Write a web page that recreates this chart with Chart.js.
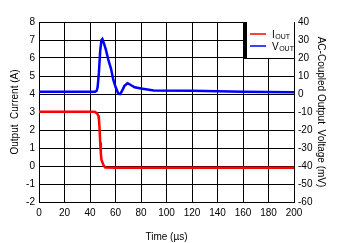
<!DOCTYPE html>
<html>
<head>
<meta charset="utf-8">
<script src="https://cdn.jsdelivr.net/npm/chart.js@4/dist/chart.umd.min.js"></script>
<style>
  html, body { margin: 0; padding: 0; background: #fff; }
  #wrap { width: 338px; height: 243px; }
</style>
</head>
<body>
<div id="wrap"><canvas id="chart"></canvas></div>
<script>
// load step transient
const IOUT_T = [0, 43, 44, 45.5, 46.5, 47, 47.5, 48, 48.5, 49, 50, 51, 52, 60, 200];
const IOUT_A = [3.02, 3.02, 3.0, 2.92, 2.8, 2.6, 2.1, 1.3, 0.7, 0.35, 0.15, 0.0, -0.08, -0.1, -0.1];

const VOUT_T = [0, 44, 45.3, 46, 47, 48, 49, 49.7, 51, 52.5, 54.4, 56.5, 58.3, 60, 62.2, 63.5, 65, 67, 69.5, 72, 75, 80, 90, 120, 160, 200];
const VOUT_MV = [1.3, 1.3, 1.8, 4, 12, 24, 30, 30.6, 28, 24.5, 19, 14, 7.8, 4, 0.2, 0, 1.5, 4.5, 6, 5, 3.7, 3, 2, 1.8, 1.3, 1.0];

const X_TICKS = [0, 20, 40, 60, 80, 100, 120, 140, 160, 180, 200];
const LEFT_TICKS = [-2, -1, 0, 1, 2, 3, 4, 5, 6, 7, 8];
const RIGHT_TICKS = [-60, -50, -40, -30, -20, -10, 0, 10, 20, 30, 40];

const FONT = { family: "'Liberation Sans', Arial, sans-serif", size: 10 };

const zip = (xs, ys) => xs.map((x, i) => ({ x, y: ys[i] }));

// legend box in the top right corner, with subscripted labels
const legendBox = {
  id: "legendBox",
  afterDatasetsDraw(chart) {
    const { ctx, chartArea } = chart;
    const w = 50, h = 36;
    const x0 = chartArea.right - w, y0 = chartArea.top;
    ctx.save();
    ctx.fillStyle = "#fff";
    ctx.fillRect(x0, y0, w, h);
    ctx.strokeStyle = "#000";
    ctx.lineWidth = 3;
    ctx.beginPath();
    ctx.moveTo(x0 + 1.5, y0);
    ctx.lineTo(x0 + 1.5, y0 + h);
    ctx.stroke();
    ctx.lineWidth = 1;
    ctx.beginPath();
    ctx.moveTo(x0, y0 + h + 0.5);
    ctx.lineTo(chartArea.right, y0 + h + 0.5);
    ctx.moveTo(chartArea.right + 0.5, y0);
    ctx.lineTo(chartArea.right + 0.5, y0 + h);
    ctx.stroke();

    const items = [
      { main: "I", sub: "OUT", color: chart.data.datasets[0].borderColor, y: y0 + 12 },
      { main: "V", sub: "OUT", color: chart.data.datasets[1].borderColor, y: y0 + 24 },
    ];
    items.forEach((it) => {
      ctx.strokeStyle = it.color;
      ctx.lineWidth = 1.5;
      ctx.beginPath();
      ctx.moveTo(x0 + 6, it.y);
      ctx.lineTo(x0 + 22, it.y);
      ctx.stroke();
      ctx.fillStyle = "#000";
      ctx.textBaseline = "alphabetic";
      ctx.font = "10px " + FONT.family;
      const tx = x0 + 28;
      ctx.fillText(it.main, tx, it.y + 3.5);
      const mw = ctx.measureText(it.main).width;
      ctx.font = "7px " + FONT.family;
      ctx.fillText(it.sub, tx + mw + 0.5, it.y + 4.5);
    });
    ctx.restore();
  },
};

new Chart(document.getElementById("chart"), {
  type: "line",
  data: {
    datasets: [
      {
        label: "IOUT",
        data: zip(IOUT_T, IOUT_A),
        borderColor: "#ff0000",
        borderWidth: 2.5,
        pointRadius: 0,
        tension: 0,
        yAxisID: "y",
      },
      {
        label: "VOUT",
        data: zip(VOUT_T, VOUT_MV),
        borderColor: "#0000ff",
        borderWidth: 2.5,
        pointRadius: 0,
        tension: 0,
        yAxisID: "y1",
      },
    ],
  },
  options: {
    responsive: true,
    maintainAspectRatio: false,
    animation: false,
    layout: { padding: { top: 22, left: 0, right: 0, bottom: 0 } },
    plugins: {
      legend: { display: false },
      tooltip: { enabled: false },
    },
    scales: {
      x: {
        type: "linear",
        min: 0,
        max: 200,
        afterBuildTicks: (s) => { s.ticks = X_TICKS.map((v) => ({ value: v })); },
        afterFit: (s) => { s.height = 41; },
        ticks: { color: "#000", font: FONT, padding: 5, maxRotation: 0 },
        grid: { color: "#000", lineWidth: 1, drawTicks: false },
        border: { color: "#000", width: 1 },
        title: { display: true, text: "Time (µs)", color: "#000", font: FONT, padding: { top: 10, bottom: 0 } },
      },
      y: {
        position: "left",
        min: -2,
        max: 8,
        afterBuildTicks: (s) => { s.ticks = LEFT_TICKS.map((v) => ({ value: v })); },
        afterFit: (s) => { s.width = 39; },
        ticks: { color: "#000", font: FONT, padding: 4 },
        grid: { color: "#000", lineWidth: 1, drawTicks: false },
        border: { color: "#000", width: 1 },
        title: { display: true, text: "Output  Current (A)", color: "#000", font: FONT, padding: { top: 9, bottom: 0 } },
      },
      y1: {
        position: "right",
        min: -60,
        max: 40,
        afterBuildTicks: (s) => { s.ticks = RIGHT_TICKS.map((v) => ({ value: v })); },
        afterFit: (s) => { s.width = 44; },
        ticks: { color: "#000", font: FONT, padding: 4 },
        grid: { display: false, drawTicks: false },
        border: { color: "#000", width: 1 },
        title: { display: true, text: "AC-Coupled Output  Voltage (mV)", color: "#000", font: FONT, padding: { top: 11, bottom: 0 } },
      },
    },
  },
  plugins: [legendBox],
});
</script>
</body>
</html>
